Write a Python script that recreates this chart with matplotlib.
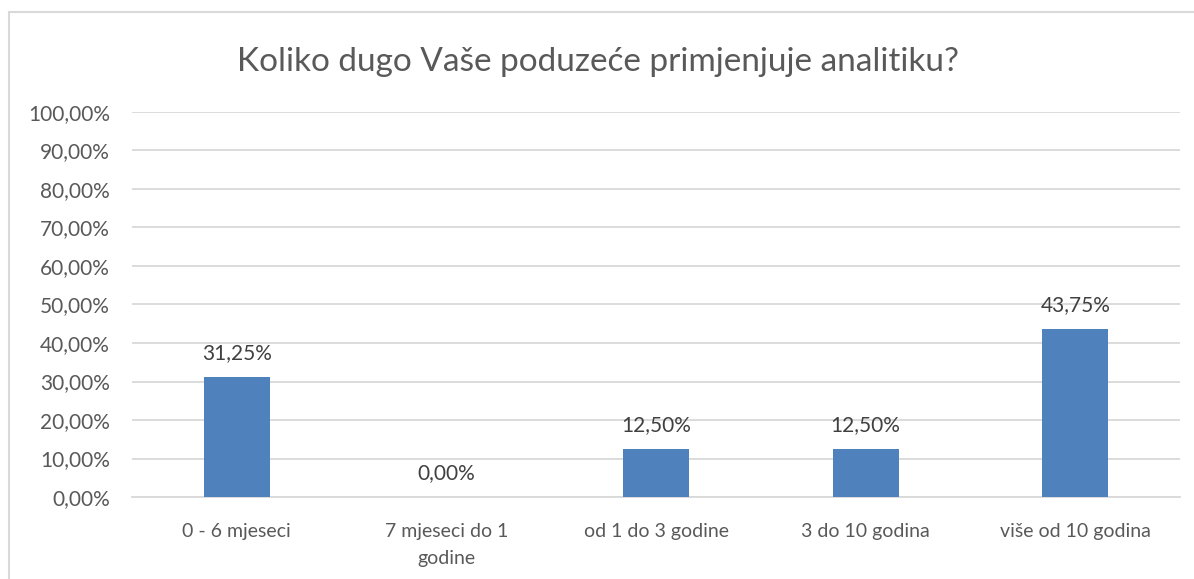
import matplotlib
matplotlib.use("Agg")
import matplotlib.pyplot as plt
from matplotlib.patches import Rectangle
from matplotlib.ticker import FuncFormatter

plt.rcParams['font.family'] = ['Lato', 'DejaVu Sans']

title = "Koliko dugo Vaše poduzeće primjenjuje analitiku?"
categories = ["0 - 6 mjeseci", "7 mjeseci do 1\ngodine", "od 1 do 3 godine",
              "3 do 10 godina", "više od 10 godina"]
values = [31.25, 0.0, 12.50, 12.50, 43.75]
y_ticks = [0, 10, 20, 30, 40, 50, 60, 70, 80, 90, 100]

TEXT = "#595959"
GRID = "#D9D9D9"
BAR = "#4F81BD"


def pct(v):
    return f"{v:.2f}".replace(".", ",") + "%"


fig = plt.figure(figsize=(11.94, 5.79), dpi=100)
ax = fig.add_axes([0.1106, 0.1416, 0.8777, 0.665])

x = range(len(categories))
bars = ax.bar(x, values, width=0.315, color=BAR, zorder=3)

for rect, v in zip(bars, values):
    ax.annotate(pct(v), (rect.get_x() + rect.get_width() / 2, v),
                xytext=(0, 10), textcoords="offset points",
                ha="center", va="bottom", fontsize=15, color="#404040")

ax.set_xlim(-0.5, len(categories) - 0.5)
ax.set_ylim(0, 100)
ax.set_yticks(y_ticks)
ax.yaxis.set_major_formatter(FuncFormatter(lambda v, _: pct(v)))
ax.set_xticks(list(x))
ax.set_xticklabels(categories, linespacing=1.65)
ax.tick_params(axis="both", length=0, labelcolor=TEXT)
ax.tick_params(axis="y", pad=16, labelsize=15)
ax.tick_params(axis="x", pad=19, labelsize=14)
ax.grid(axis="y", color=GRID, linewidth=1.3, zorder=0)
for side in ["top", "right", "left"]:
    ax.spines[side].set_visible(False)
ax.spines["bottom"].set_color(GRID)
ax.spines["bottom"].set_linewidth(1.3)

fig.text(0.5012, 0.893, title, ha="center", va="center",
         fontsize=24, color=TEXT)

# chart frame (only left and top edges are inside the picture)
fig.patches.append(Rectangle((8.5 / 1194, -0.1), 1.2, 1.1 - 12.5 / 579,
                             transform=fig.transFigure, fill=False,
                             edgecolor=GRID, linewidth=1.5))

fig.savefig("out.png", dpi=100)
